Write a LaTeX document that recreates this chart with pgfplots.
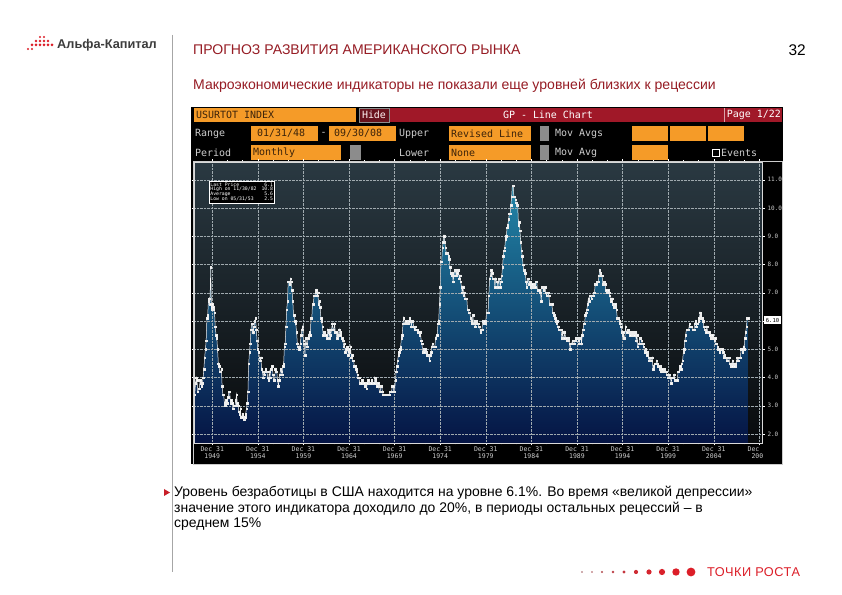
\documentclass[border=0pt]{standalone}
\usepackage{pgfplots}
\pgfplotsset{compat=1.18}
\usepackage{pgfplotstable}
\usepackage{fontspec}
\setmainfont{Liberation Sans}
\newfontfamily\bbfont{DejaVu Sans Mono}
\newfontfamily\footfont[LetterSpace=4]{Liberation Sans}
\definecolor{titlered}{RGB}{150,28,36}
\definecolor{bulletred}{RGB}{200,30,40}
\definecolor{bbor}{RGB}{245,155,40}
\definecolor{bbred}{RGB}{160,24,40}
\definecolor{bbhide}{RGB}{105,18,28}
\definecolor{bbtxt}{RGB}{205,205,205}
\definecolor{bbdark}{RGB}{60,35,10}
\definecolor{bbgray}{RGB}{140,140,140}
\definecolor{bgtop}{RGB}{42,57,66}
\definecolor{bgbot}{RGB}{8,10,12}
\definecolor{filltop}{RGB}{34,134,168}
\definecolor{fillbot}{RGB}{5,20,68}
\definecolor{gridc}{RGB}{160,170,175}
\definecolor{dotred}{RGB}{220,30,40}
\definecolor{logogray}{RGB}{60,60,60}
\newcommand\bbfs{\fontsize{10}{12}\selectfont\bbfont}

\pgfplotstableread[row sep=\\]{
x y\\
0 3.4\\1 3.8\\2 4.0\\3 3.9\\4 3.5\\5 3.6\\6 3.6\\7 3.9\\8 3.8\\9 3.7\\10 3.8\\11 4.0\\
12 4.3\\13 4.7\\14 5.0\\15 5.3\\16 6.1\\17 6.2\\18 6.7\\19 6.8\\20 6.6\\21 7.9\\22 6.4\\23 6.6\\
24 6.5\\25 6.4\\26 6.3\\27 5.8\\28 5.5\\29 5.4\\30 5.0\\31 4.5\\32 4.4\\33 4.2\\34 4.2\\35 4.3\\
36 3.7\\37 3.4\\38 3.4\\39 3.1\\40 3.0\\41 3.2\\42 3.1\\43 3.1\\44 3.3\\45 3.5\\46 3.5\\47 3.1\\
48 3.2\\49 3.1\\50 2.9\\51 2.9\\52 3.0\\53 3.0\\54 3.2\\55 3.4\\56 3.1\\57 3.0\\58 2.8\\59 2.7\\
60 2.9\\61 2.6\\62 2.6\\63 2.7\\64 2.5\\65 2.5\\66 2.6\\67 2.7\\68 2.9\\69 3.1\\70 3.5\\71 4.5\\
72 4.9\\73 5.2\\74 5.7\\75 5.9\\76 5.9\\77 5.6\\78 5.8\\79 6.0\\80 6.1\\81 5.7\\82 5.3\\83 5.0\\
84 4.9\\85 4.7\\86 4.6\\87 4.7\\88 4.3\\89 4.2\\90 4.0\\91 4.2\\92 4.1\\93 4.3\\94 4.2\\95 4.2\\
96 4.0\\97 3.9\\98 4.2\\99 4.0\\100 4.3\\101 4.3\\102 4.4\\103 4.1\\104 3.9\\105 3.9\\106 4.3\\107 4.2\\
108 4.2\\109 3.9\\110 3.7\\111 3.9\\112 4.1\\113 4.3\\114 4.2\\115 4.1\\116 4.4\\117 4.5\\118 5.1\\119 5.2\\
120 5.8\\121 6.4\\122 6.7\\123 7.4\\124 7.4\\125 7.3\\126 7.5\\127 7.4\\128 7.1\\129 6.7\\130 6.2\\131 6.2\\
132 6.0\\133 5.9\\134 5.6\\135 5.2\\136 5.1\\137 5.0\\138 5.1\\139 5.2\\140 5.5\\141 5.7\\142 5.8\\143 5.3\\
144 5.2\\145 4.8\\146 5.4\\147 5.2\\148 5.1\\149 5.4\\150 5.5\\151 5.6\\152 5.5\\153 6.1\\154 6.1\\155 6.6\\
156 6.6\\157 6.9\\158 6.9\\159 7.0\\160 7.1\\161 6.9\\162 7.0\\163 6.6\\164 6.7\\165 6.5\\166 6.1\\167 6.0\\
168 5.8\\169 5.5\\170 5.6\\171 5.6\\172 5.5\\173 5.5\\174 5.4\\175 5.7\\176 5.6\\177 5.4\\178 5.7\\179 5.5\\
180 5.7\\181 5.9\\182 5.7\\183 5.7\\184 5.9\\185 5.6\\186 5.6\\187 5.4\\188 5.5\\189 5.5\\190 5.7\\191 5.5\\
192 5.6\\193 5.4\\194 5.4\\195 5.3\\196 5.1\\197 5.2\\198 4.9\\199 5.0\\200 5.1\\201 5.1\\202 4.8\\203 5.0\\
204 4.9\\205 5.1\\206 4.7\\207 4.8\\208 4.6\\209 4.6\\210 4.4\\211 4.4\\212 4.3\\213 4.2\\214 4.1\\215 4.0\\
216 4.0\\217 3.8\\218 3.8\\219 3.8\\220 3.9\\221 3.8\\222 3.8\\223 3.8\\224 3.7\\225 3.7\\226 3.6\\227 3.8\\
228 3.9\\229 3.8\\230 3.8\\231 3.8\\232 3.8\\233 3.9\\234 3.8\\235 3.8\\236 3.8\\237 4.0\\238 3.9\\239 3.8\\
240 3.7\\241 3.8\\242 3.7\\243 3.5\\244 3.5\\245 3.7\\246 3.7\\247 3.5\\248 3.4\\249 3.4\\250 3.4\\251 3.4\\
252 3.4\\253 3.4\\254 3.4\\255 3.4\\256 3.4\\257 3.5\\258 3.5\\259 3.5\\260 3.7\\261 3.7\\262 3.5\\263 3.5\\
264 3.9\\265 4.2\\266 4.4\\267 4.6\\268 4.8\\269 4.9\\270 5.0\\271 5.1\\272 5.4\\273 5.5\\274 5.9\\275 6.1\\
276 5.9\\277 5.9\\278 6.0\\279 5.9\\280 5.9\\281 5.9\\282 6.0\\283 6.1\\284 6.0\\285 5.8\\286 6.0\\287 6.0\\
288 5.8\\289 5.7\\290 5.8\\291 5.7\\292 5.7\\293 5.7\\294 5.6\\295 5.6\\296 5.5\\297 5.6\\298 5.3\\299 5.2\\
300 4.9\\301 5.0\\302 4.9\\303 5.0\\304 4.9\\305 4.9\\306 4.8\\307 4.8\\308 4.8\\309 4.6\\310 4.8\\311 4.9\\
312 5.1\\313 5.2\\314 5.1\\315 5.1\\316 5.1\\317 5.4\\318 5.5\\319 5.5\\320 5.9\\321 6.0\\322 6.6\\323 7.2\\
324 8.1\\325 8.1\\326 8.6\\327 8.8\\328 9.0\\329 8.8\\330 8.6\\331 8.4\\332 8.4\\333 8.4\\334 8.3\\335 8.2\\
336 7.9\\337 7.7\\338 7.6\\339 7.7\\340 7.4\\341 7.6\\342 7.8\\343 7.8\\344 7.6\\345 7.7\\346 7.8\\347 7.8\\
348 7.5\\349 7.6\\350 7.4\\351 7.2\\352 7.0\\353 7.2\\354 6.9\\355 7.0\\356 6.8\\357 6.8\\358 6.8\\359 6.4\\
360 6.4\\361 6.3\\362 6.3\\363 6.1\\364 6.0\\365 5.9\\366 6.2\\367 5.9\\368 6.0\\369 5.8\\370 5.9\\371 6.0\\
372 5.9\\373 5.9\\374 5.8\\375 5.8\\376 5.6\\377 5.7\\378 5.7\\379 6.0\\380 5.9\\381 6.0\\382 5.9\\383 6.0\\
384 6.3\\385 6.3\\386 6.3\\387 6.9\\388 7.5\\389 7.6\\390 7.8\\391 7.7\\392 7.5\\393 7.5\\394 7.5\\395 7.2\\
396 7.5\\397 7.4\\398 7.4\\399 7.2\\400 7.5\\401 7.5\\402 7.2\\403 7.4\\404 7.6\\405 7.9\\406 8.3\\407 8.5\\
408 8.6\\409 8.9\\410 9.0\\411 9.3\\412 9.4\\413 9.6\\414 9.8\\415 9.8\\416 10.1\\417 10.4\\418 10.8\\419 10.8\\
420 10.4\\421 10.4\\422 10.3\\423 10.2\\424 10.1\\425 10.1\\426 9.4\\427 9.5\\428 9.2\\429 8.8\\430 8.5\\431 8.3\\
432 8.0\\433 7.8\\434 7.8\\435 7.7\\436 7.4\\437 7.2\\438 7.5\\439 7.5\\440 7.3\\441 7.4\\442 7.2\\443 7.3\\
444 7.3\\445 7.2\\446 7.2\\447 7.3\\448 7.2\\449 7.4\\450 7.4\\451 7.1\\452 7.1\\453 7.1\\454 7.0\\455 7.0\\
456 6.7\\457 7.2\\458 7.2\\459 7.1\\460 7.2\\461 7.2\\462 7.0\\463 6.9\\464 7.0\\465 7.0\\466 6.9\\467 6.6\\
468 6.6\\469 6.6\\470 6.6\\471 6.3\\472 6.3\\473 6.2\\474 6.1\\475 6.0\\476 5.9\\477 6.0\\478 5.8\\479 5.7\\
480 5.7\\481 5.7\\482 5.7\\483 5.4\\484 5.6\\485 5.4\\486 5.4\\487 5.6\\488 5.4\\489 5.4\\490 5.3\\491 5.3\\
492 5.4\\493 5.2\\494 5.0\\495 5.2\\496 5.2\\497 5.3\\498 5.2\\499 5.2\\500 5.3\\501 5.3\\502 5.4\\503 5.4\\
504 5.4\\505 5.3\\506 5.2\\507 5.4\\508 5.4\\509 5.2\\510 5.5\\511 5.7\\512 5.9\\513 5.9\\514 6.2\\515 6.3\\
516 6.4\\517 6.6\\518 6.8\\519 6.7\\520 6.9\\521 6.9\\522 6.8\\523 6.9\\524 6.9\\525 7.0\\526 7.0\\527 7.3\\
528 7.3\\529 7.4\\530 7.4\\531 7.4\\532 7.6\\533 7.8\\534 7.7\\535 7.6\\536 7.6\\537 7.3\\538 7.4\\539 7.4\\
540 7.3\\541 7.1\\542 7.0\\543 7.1\\544 7.1\\545 7.0\\546 6.9\\547 6.8\\548 6.7\\549 6.8\\550 6.6\\551 6.5\\
552 6.6\\553 6.6\\554 6.5\\555 6.4\\556 6.1\\557 6.1\\558 6.1\\559 6.0\\560 5.9\\561 5.8\\562 5.6\\563 5.5\\
564 5.6\\565 5.4\\566 5.4\\567 5.8\\568 5.6\\569 5.6\\570 5.7\\571 5.7\\572 5.6\\573 5.5\\574 5.6\\575 5.6\\
576 5.6\\577 5.5\\578 5.5\\579 5.6\\580 5.6\\581 5.3\\582 5.5\\583 5.1\\584 5.2\\585 5.2\\586 5.4\\587 5.4\\
588 5.3\\589 5.2\\590 5.2\\591 5.1\\592 4.9\\593 5.0\\594 4.9\\595 4.8\\596 4.9\\597 4.7\\598 4.6\\599 4.7\\
600 4.6\\601 4.6\\602 4.7\\603 4.3\\604 4.4\\605 4.5\\606 4.5\\607 4.5\\608 4.6\\609 4.5\\610 4.4\\611 4.4\\
612 4.3\\613 4.4\\614 4.2\\615 4.3\\616 4.2\\617 4.3\\618 4.3\\619 4.2\\620 4.2\\621 4.1\\622 4.1\\623 4.0\\
624 4.0\\625 4.1\\626 4.0\\627 3.8\\628 4.0\\629 4.0\\630 4.0\\631 4.1\\632 3.9\\633 3.9\\634 3.9\\635 3.9\\
636 4.2\\637 4.2\\638 4.3\\639 4.4\\640 4.3\\641 4.5\\642 4.6\\643 4.9\\644 5.0\\645 5.3\\646 5.5\\647 5.7\\
648 5.7\\649 5.7\\650 5.7\\651 5.9\\652 5.8\\653 5.8\\654 5.8\\655 5.7\\656 5.7\\657 5.7\\658 5.9\\659 6.0\\
660 5.8\\661 5.9\\662 5.9\\663 6.0\\664 6.1\\665 6.3\\666 6.2\\667 6.1\\668 6.1\\669 6.0\\670 5.8\\671 5.7\\
672 5.7\\673 5.6\\674 5.8\\675 5.6\\676 5.6\\677 5.6\\678 5.5\\679 5.4\\680 5.4\\681 5.5\\682 5.4\\683 5.4\\
684 5.3\\685 5.4\\686 5.2\\687 5.2\\688 5.1\\689 5.0\\690 5.0\\691 4.9\\692 5.0\\693 5.0\\694 5.0\\695 4.9\\
696 4.7\\697 4.8\\698 4.7\\699 4.7\\700 4.6\\701 4.6\\702 4.7\\703 4.7\\704 4.5\\705 4.4\\706 4.5\\707 4.4\\
708 4.6\\709 4.5\\710 4.4\\711 4.5\\712 4.4\\713 4.6\\714 4.7\\715 4.6\\716 4.7\\717 4.7\\718 4.7\\719 5.0\\
720 5.0\\721 4.9\\722 5.1\\723 5.0\\724 5.4\\725 5.6\\726 5.8\\727 6.1\\728 6.1\\
}\unrate

\begin{document}
\begin{tikzpicture}
\path[use as bounding box, fill=white] (0,0) rectangle (842bp,595bp);
\begin{scope}[x=1bp,y=-1bp,yshift=595bp]
% ---------- slide header ----------
\foreach \xx/\yy/\rr in {40/37/1.1,44/37/1.1,36/41/1.3,40/41/1.3,44/41/1.3,48/41/1.3,32/45/1.5,36/45/1.5,40/45/1.5,44/45/1.5,48/45/1.5,52/45/1.5,28/49/1.2,32/49/1.2}
  \fill[dotred] (\xx,\yy) circle[radius=\rr];
\node[anchor=west, inner sep=0, font=\bfseries\fontsize{12.8}{14}\selectfont, text=logogray] at (57,45) {Альфа-Капитал};
\draw[gray!70, line width=0.6bp] (172,35) -- (172,572);
\node[anchor=base west, inner sep=0, font=\fontsize{14.1}{16}\selectfont, text=titlered] at (193,55) {ПРОГНОЗ РАЗВИТИЯ АМЕРИКАНСКОГО РЫНКА};
\node[anchor=base east, inner sep=0, font=\fontsize{15.5}{18}\selectfont] at (806,56) {32};
\node[anchor=base west, inner sep=0, font=\fontsize{14.1}{16}\selectfont, text=titlered] at (193,90) {Макроэкономические индикаторы не показали еще уровней близких к рецессии};
% ---------- Bloomberg panel ----------
\fill[black] (191,107) rectangle (783,464);
\fill[bbor] (194,108) rectangle (356,122);
\node[anchor=west, inner sep=0, font=\bbfs, text=bbdark] at (196,115) {USURTOT INDEX};
\fill[bbhide] (359,108) rectangle (389,122);
\draw[bbgray, line width=0.4bp] (359,108) rectangle (389,122);
\node[inner sep=0, font=\bbfs, text=white!80!pink] at (374,115) {Hide};
\fill[bbred] (390,108) rectangle (782,122);
\node[inner sep=0, font=\bbfs, text=white] at (548,115) {GP - Line Chart};
\draw[white!60!bbred, line width=0.5bp] (724,108) -- (724,122);
\node[anchor=east, inner sep=0, font=\bbfs, text=white] at (781,115) {Page 1/22};
% row 2
\node[anchor=west, inner sep=0, font=\bbfs, text=bbtxt] at (195,133.5) {Range};
\fill[bbor] (251,126) rectangle (318,141);
\node[anchor=west, inner sep=0, font=\bbfs, text=bbdark] at (257,133.5) {01/31/48};
\node[inner sep=0, font=\bbfs, text=bbtxt] at (323.5,133.5) {-};
\fill[bbor] (329,126) rectangle (396,141);
\node[anchor=west, inner sep=0, font=\bbfs, text=bbdark] at (334,133.5) {09/30/08};
\node[anchor=west, inner sep=0, font=\bbfs, text=bbtxt] at (399,133.5) {Upper};
\fill[bbor] (449,126) rectangle (531,141);
\fill[black] (531,126) rectangle (540,141);
\fill[bbgray] (540,126) rectangle (549,141);
\node[anchor=west, inner sep=0, font=\bbfs, text=bbdark] at (451,133.5) {Revised Line};
\node[anchor=west, inner sep=0, font=\bbfs, text=bbtxt] at (555,133.5) {Mov Avgs};
\fill[bbor] (632,126) rectangle (668,141);
\fill[bbor] (670,126) rectangle (706,141);
\fill[bbor] (708,126) rectangle (744,141);
% row 3
\node[anchor=west, inner sep=0, font=\bbfs, text=bbtxt] at (195,152.5) {Period};
\fill[bbor] (251,145) rectangle (341,160);
\fill[black] (341,145) rectangle (350,160);
\fill[bbgray] (350,145) rectangle (361,160);
\node[anchor=west, inner sep=0, font=\bbfs, text=bbdark] at (253,152.5) {Monthly};
\node[anchor=west, inner sep=0, font=\bbfs, text=bbtxt] at (399,152.5) {Lower};
\fill[bbor] (449,145) rectangle (531,160);
\fill[black] (531,145) rectangle (540,160);
\fill[bbgray] (540,145) rectangle (549,160);
\node[anchor=west, inner sep=0, font=\bbfs, text=bbdark] at (451,152.5) {None};
\node[anchor=west, inner sep=0, font=\bbfs, text=bbtxt] at (555,152.5) {Mov Avg};
\fill[bbor] (632,145) rectangle (668,160);
\draw[white, line width=0.5bp] (712,149) rectangle (719,156);
\node[anchor=west, inner sep=0, font=\bbfs, text=bbtxt] at (721,152.5) {Events};
\end{scope}

\begin{axis}[
  at={(194bp,152bp)}, anchor=south west,
  scale only axis, width=568bp, height=281bp,
  xmin=-1, xmax=746.5, ymin=1.68, ymax=11.63,
  axis background/.style={top color=bgtop, bottom color=bgbot},
  axis line style={draw=white!85!black, line width=0.6bp},
  axis on top,
  xtick={23,83,...,743},
  xticklabels={{Dec 31\\1949},{Dec 31\\1954},{Dec 31\\1959},{Dec 31\\1964},{Dec 31\\1969},{Dec 31\\1974},{Dec 31\\1979},{Dec 31\\1984},{Dec 31\\1989},{Dec 31\\1994},{Dec 31\\1999},{Dec 31\\2004},{Dec 31\\2009}},
  minor x tick num=2,
  ytick={2,3,...,11},
  yticklabel pos=right,
  /pgf/number format/assume math mode=true,
  yticklabel style={font=\fontsize{6}{6}\selectfont\bbfont, text=bbtxt, xshift=-0.5bp, /pgf/number format/.cd, fixed, fixed zerofill, precision=1},
  xticklabel style={font=\fontsize{6.5}{7}\selectfont\bbfont, text=bbtxt, align=center, inner sep=0.8bp},
  tick align=outside,
  major tick length=2.5bp, minor tick length=1.5bp,
  tick style={white, line width=0.4bp},
  grid=major,
  major grid style={densely dotted, gridc, line width=0.4bp},
]
\addplot[draw=none, top color=filltop, bottom color=fillbot, forget plot]
  table[x=x, y=y]{\unrate} |- (axis cs:0,1.68) -- cycle;
\addplot[white!92!gray, line width=0.5bp, mark=square*, mark size=0.75bp,
  mark options={fill=white, draw=white!85!gray, line width=0.2bp}]
  table[x=x, y=y]{\unrate};
\end{axis}

\begin{scope}[x=1bp,y=-1bp,yshift=595bp]
\fill[black] (763,444) rectangle (782,463);
\draw[white!80!black, line width=0.5bp] (193,161) rectangle (782,464);
\fill[white] (764,316.5) rectangle (781,324);
\node[inner sep=0, font=\fontsize{5.5}{5.5}\selectfont\bbfont, text=black] at (772.5,320.3) {6.10};
\node[anchor=north west, draw=white, fill=black, line width=0.5bp, inner sep=1.2bp,
  font=\fontsize{4.8}{5}\selectfont\bbfont, text=white] at (209,181)
  {\renewcommand\arraystretch{0.85}\begin{tabular}{@{}l@{\hspace{5bp}}r@{}}Last Price & 6.1\\High on 11/30/82 & 10.8\\Average & 5.6\\Low on 05/31/53 & 2.5\end{tabular}};
% ---------- text block ----------
\fill[bulletred] (164,489) -- (170,492.5) -- (164,496) -- cycle;
\begin{scope}[every node/.style={anchor=base west, inner sep=0, font=\fontsize{14}{15.5}\selectfont}]
\node at (174,497) {Уровень безработицы в США находится на уровне 6.1\%. Во время «великой депрессии»};
\node at (174,512.5) {значение этого индикатора доходило до 20\%, в периоды остальных рецессий – в};
\node at (174,528) {среднем 15\%};
\end{scope}
% ---------- footer ----------
\foreach \xx/\rr/\cc in {582/0.8/35,592/0.9/45,602/1.1/55,613/1.4/65,624/1.7/75,636/2.1/85,649/2.6/92,662/3.1/97,676/3.7/100,691/4.4/100}
  \fill[dotred!\cc!gray] (\xx,572) circle[radius=\rr];
\node[anchor=west, inner sep=0, font=\footfont\fontsize{12.8}{14}\selectfont, text=dotred] at (707,572) {ТОЧКИ РОСТА};
\end{scope}
\end{tikzpicture}
\end{document}
